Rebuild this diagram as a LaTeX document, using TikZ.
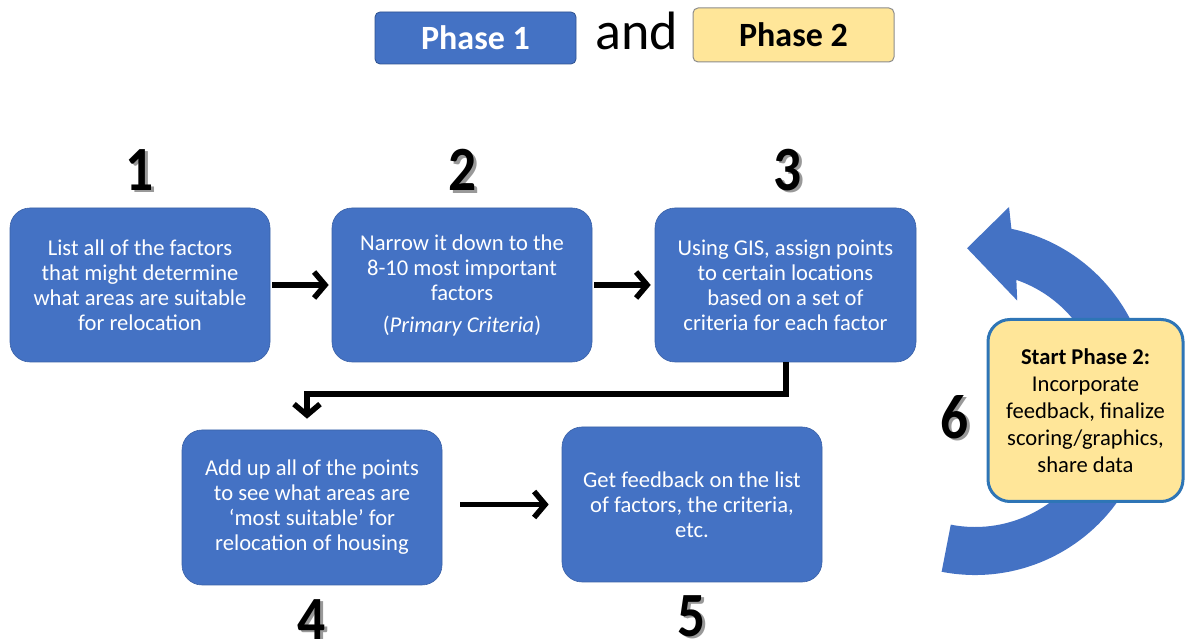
\documentclass[tikz,border=0pt]{standalone}
\usepackage{fontspec}
\setmainfont{Carlito}
\usetikzlibrary{arrows.meta,calc}
\definecolor{pblue}{HTML}{4472C4}
\definecolor{dblue}{HTML}{2F528F}
\definecolor{pyellow}{HTML}{FFE699}
\definecolor{bborder}{HTML}{2E75B6}
\begin{document}
\begin{tikzpicture}[x=1pt,y=1pt,
  stepbox/.style={rectangle, rounded corners=20pt, fill=pblue, draw=pblue!85!black, line width=0.6pt,
    text=white, align=center, minimum width=260pt, minimum height=154pt, inner sep=0pt,
    font=\fontsize{22.6}{25}\selectfont},
  finalbox/.style={rectangle, rounded corners=22pt, fill=pyellow, draw=bborder, line width=3pt,
    text=black, align=center, minimum width=195pt, minimum height=182pt, inner sep=0pt,
    font=\fontsize{22.6}{27}\selectfont},
  phasebox/.style={rectangle, rounded corners=5pt, minimum width=201pt, inner sep=0pt,
    font=\bfseries\fontsize{34}{34}\selectfont},
  arr/.style={line width=5.5pt, -{Straight Barb[length=11pt,width=26pt]}},
  numtext/.style={inner sep=0pt, text=black, font=\bfseries\fontsize{63}{63}\selectfont},
  numshadow/.style={numtext, text=black!40},
]
\useasboundingbox (0,0) rectangle (1185,639);

% header
\node[phasebox, fill=pblue, draw=dblue, line width=0.8pt, text=white, minimum height=52pt] (p1) at (475.5,601) {Phase 1};
\node[inner sep=0pt, anchor=base, font=\fontsize{54}{54}\selectfont] (and) at (637,589) {and};
\node[phasebox, fill=pyellow, draw=black!45, line width=1pt, text=black, minimum height=54pt] (p2) at (793.5,604) {Phase 2};

% step numbers
\newcommand\stepnum[3]{%
  \node[numshadow, xshift=2.5pt, yshift=-2.5pt] at (#2) {\scalebox{0.88}[1]{#3}};
  \node[numtext] (#1) at (#2) {\scalebox{0.88}[1]{#3}};}
\stepnum{n1}{140,469}{1}
\stepnum{n2}{463,469}{2}
\stepnum{n3}{788,469}{3}
\stepnum{n4}{312,19}{4}
\stepnum{n5}{692,23}{5}
\stepnum{n6}{955,222}{6}

% boxes
\node[stepbox] (b1) at (140,354) {List all of the factors\\that might determine\\what areas are suitable\\for relocation};
\node[stepbox] (b2) at (462,354) {Narrow it down to the\\8-10 most important\\factors\\[7pt](\textit{Primary Criteria})};
\node[stepbox, minimum width=261pt] (b3) at (785.5,354) {Using GIS, assign points\\to certain locations\\based on a set of\\criteria for each factor};
\node[stepbox, minimum height=155pt] (b4) at (312,131.5) {Add up all of the points\\to see what areas are\\`most suitable' for\\relocation of housing};
\node[stepbox, minimum height=155pt] (b5) at (692,134.5) {Get feedback on the list\\of factors, the criteria,\\etc.};

% circular arrow
\begin{scope}[shift={(975,239)}]
  \fill[pblue] (-101:175) arc[start angle=-101, end angle=78, radius=175pt]
    -- (80:196) -- (93:152) -- (67:108) -- (71:127)
    arc[start angle=71, end angle=-101, radius=127pt] -- cycle;
\end{scope}
\node[finalbox] (b6) at (1085.5,228.5) {\textbf{Start Phase 2:}\\Incorporate\\feedback, finalize\\scoring/graphics,\\share data};

% connectors
\coordinate (bend) at (0,245);
\draw[arr, shorten <=2pt, shorten >=3pt] (b1) -- (b2);
\draw[arr, shorten <=2pt, shorten >=4pt] (b2) -- (b3);
\draw[arr, shorten >=11pt] ([xshift=0.5pt]b3.south) -- ([xshift=0.5pt]b3.south |- bend) -| ([xshift=-5pt]b4.north);
\draw[arr, shorten <=18pt, shorten >=13pt] (b4.east |- b5.west) -- (b5.west);
\end{tikzpicture}
\end{document}
